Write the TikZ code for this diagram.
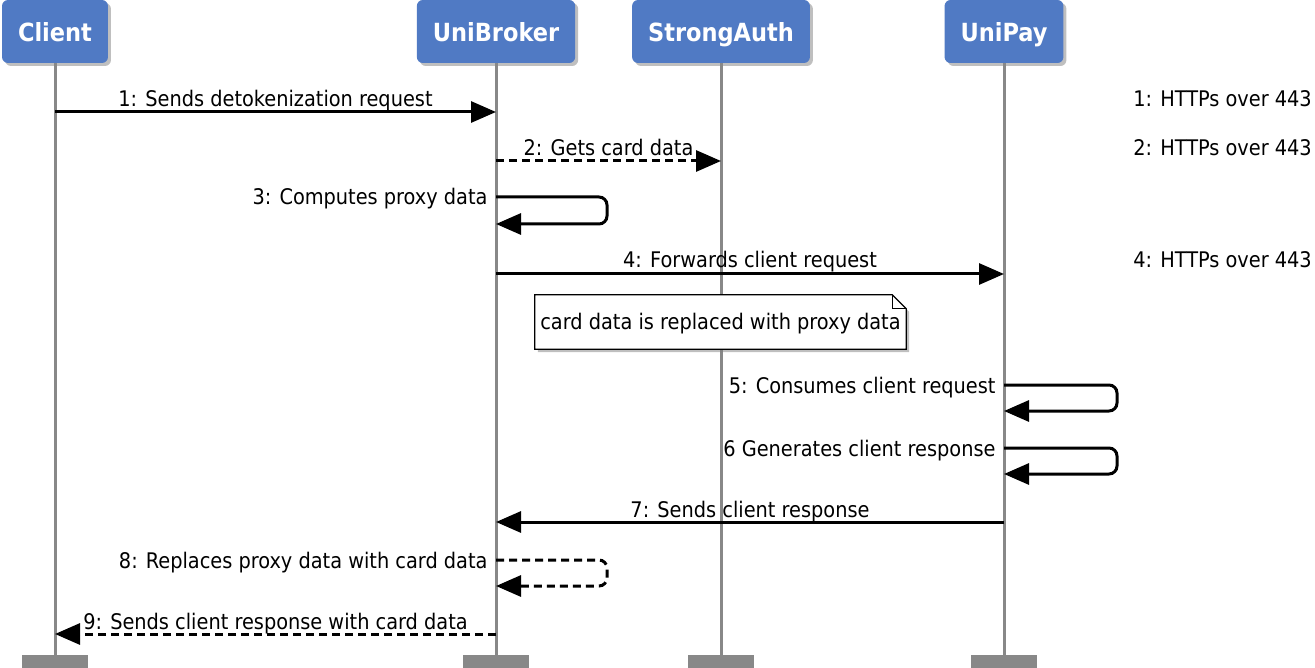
\documentclass[tikz,border=0pt]{standalone}
\usepackage{fontspec}
\setmainfont{DejaVu Sans Condensed}
\usetikzlibrary{arrows.meta,shadows}

\definecolor{headblue}{RGB}{80,122,196}
\definecolor{lifegray}{RGB}{136,136,136}

\tikzset{
  actor/.style={fill=headblue, rounded corners=6pt, text=white,
    font=\bfseries\fontsize{25}{29}\selectfont, minimum height=63pt, inner xsep=16pt,
    text height=22pt, text depth=1pt,
    drop shadow={shadow xshift=3pt, shadow yshift=-3pt, opacity=0.5}},
  foot/.style={fill=lifegray, minimum width=66pt, minimum height=13pt, inner sep=0pt},
  life/.style={draw=lifegray, line width=3pt},
  msg/.style={line width=3pt, -{Triangle[length=25pt,width=21pt]}},
  reply/.style={msg, dash pattern=on 8pt off 5pt},
  lbl/.style={font=\fontsize{21.5}{26}\selectfont, anchor=base, inner sep=0pt},
  selflbl/.style={lbl, anchor=base east},
  proto/.style={lbl, anchor=base east},
  notebox/.style={minimum width=371pt, minimum height=54pt, inner sep=0pt},
}

\begin{document}
\begin{tikzpicture}[x=1pt,y=-1pt]
  \useasboundingbox (0,0) rectangle (1315,668);

  % Participants
  \node[actor] (client) at (55,31.5) {Client};
  \node[actor] (broker) at (496,31.5) {UniBroker};
  \node[actor] (auth) at (721,31.5) {StrongAuth};
  \node[actor] (pay) at (1004,31.5) {UniPay};

  % Feet of the lifelines
  \node[foot] (client-foot) at (55,661.5) {};
  \node[foot] (broker-foot) at (496,661.5) {};
  \node[foot] (auth-foot) at (721,661.5) {};
  \node[foot] (pay-foot) at (1004,661.5) {};

  % Lifelines
  \foreach \p in {client,broker,auth,pay}
    \draw[life] (\p.south) -- (\p-foot.north);

  % Rows of the messages
  \coordinate (r1) at (0,112);
  \coordinate (r2) at (0,161);
  \coordinate (r3) at (0,197);
  \coordinate (r3b) at (0,224);
  \coordinate (r4) at (0,274);
  \coordinate (r5) at (0,385);
  \coordinate (r5b) at (0,411);
  \coordinate (r6) at (0,448);
  \coordinate (r6b) at (0,474);
  \coordinate (r7) at (0,522);
  \coordinate (r8) at (0,560);
  \coordinate (r8b) at (0,586);
  \coordinate (r9) at (0,634);

  % 1 and 2
  \draw[msg] (client |- r1) -- (broker |- r1)
    node[lbl, midway, yshift=5pt] (l1) {1: Sends detokenization request};
  \draw[reply] (broker |- r2) -- (auth |- r2)
    node[lbl, midway, yshift=5pt] (l2) {2: Gets card data};

  % 3, self call on the broker
  \draw[msg, rounded corners=8pt] (broker |- r3)
    node[selflbl, xshift=-7pt, yshift=-8pt] (l3) {3: Computes proxy data}
    -- ++(111,0) |- (broker |- r3b);

  % 4
  \draw[msg] (broker |- r4) -- (pay |- r4)
    node[lbl, midway, yshift=6pt] (l4) {4: Forwards client request};

  % Note over the broker and auth
  \node[notebox] (note) at (720.5,322) {};
  \filldraw[fill=white, draw=black, line width=1.2pt,
    drop shadow={shadow xshift=3pt, shadow yshift=-3pt, opacity=0.5}]
    (note.north west) -- ([xshift=-14pt]note.north east)
    -- ([yshift=-14pt]note.north east) -- (note.south east)
    -- (note.south west) -- cycle;
  \draw[line width=1.2pt] ([xshift=-14pt]note.north east) |- ([yshift=-14pt]note.north east);
  \node[lbl, anchor=base] (notetext) at (720.5,330) {card data is replaced with proxy data};

  % 5 and 6, self calls on UniPay
  \draw[msg, rounded corners=8pt] (pay |- r5)
    node[selflbl, xshift=-7pt, yshift=-8pt] (l5) {5: Consumes client request}
    -- ++(113,0) |- (pay |- r5b);
  \draw[msg, rounded corners=8pt] (pay |- r6)
    node[selflbl, xshift=-7pt, yshift=-8pt] (l6) {6 Generates client response}
    -- ++(113,0) |- (pay |- r6b);

  % 7
  \draw[msg] (pay |- r7) -- (broker |- r7)
    node[lbl, midway, yshift=5pt] (l7) {7: Sends client response};

  % 8, self call on the broker
  \draw[reply, rounded corners=8pt] (broker |- r8)
    node[selflbl, xshift=-7pt, yshift=-8pt] (l8) {8: Replaces proxy data with card data}
    -- ++(111,0) |- (broker |- r8b);

  % 9
  \draw[reply] (broker |- r9) -- (client |- r9)
    node[lbl, midway, yshift=5pt] (l9) {9: Sends client response with card data};

  % Protocols on the right
  \node[proto] (p1) at (1312,107) {1: HTTPs over 443};
  \node[proto] (p2) at (1312,156) {2: HTTPs over 443};
  \node[proto] (p4) at (1312,268) {4: HTTPs over 443};
\end{tikzpicture}
\end{document}
